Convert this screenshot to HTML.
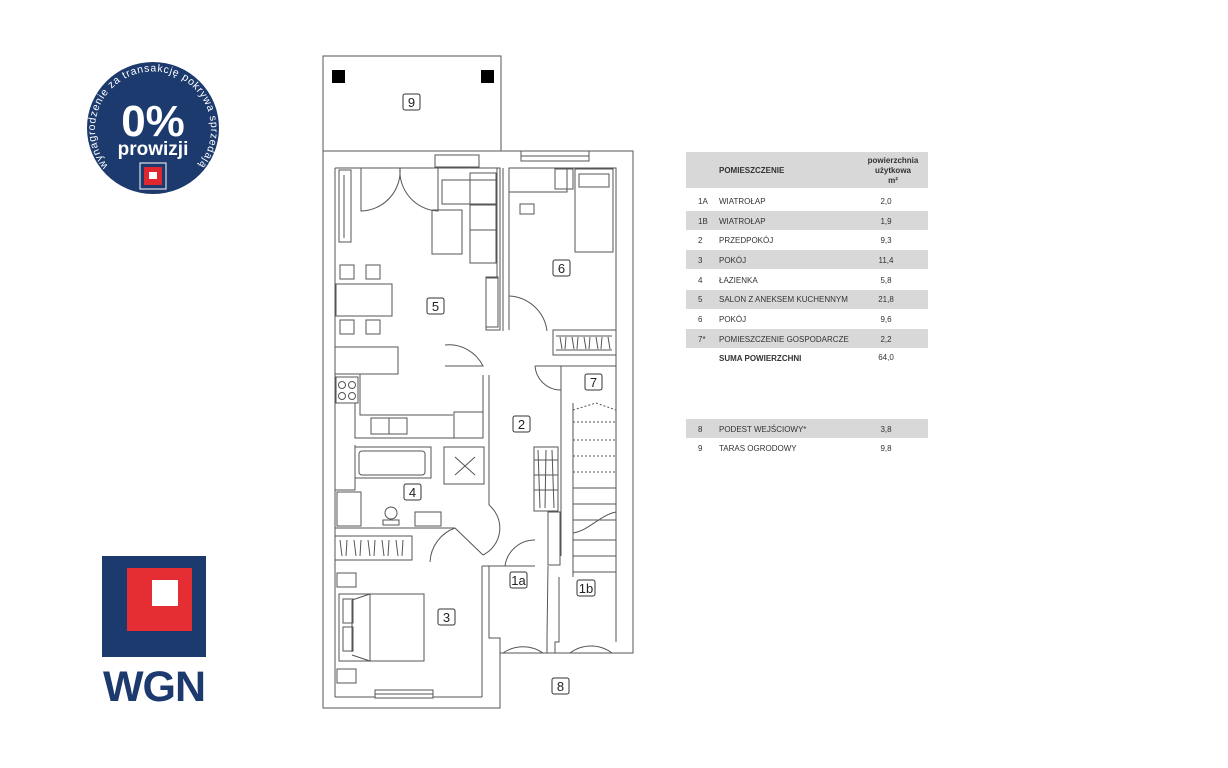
<!DOCTYPE html>
<html><head><meta charset="utf-8"><style>
html,body{margin:0;padding:0;background:#fff;}
svg{display:block}
</style></head><body>
<svg width="1228" height="768" viewBox="0 0 1228 768" xmlns="http://www.w3.org/2000/svg" font-family="Liberation Sans, sans-serif">
<rect width="1228" height="768" fill="#fff"/>

<!-- Badge -->
<defs><path id="arc" d="M 108 166 A 58 58 0 1 1 198 166"/></defs>
<circle cx="153" cy="128" r="66" fill="#1c3a6e"/>
<text font-size="10.5" fill="#fff"><textPath href="#arc" textLength="272" lengthAdjust="spacing">wynagrodzenie za transakcję pokrywa sprzedający</textPath></text>
<text x="153" y="136" text-anchor="middle" font-size="44" font-weight="bold" fill="#fff">0%</text>
<text x="153" y="155" text-anchor="middle" font-size="19" font-weight="bold" fill="#fff">prowizji</text>
<rect x="140" y="163" width="26" height="26" fill="#1c3a6e" stroke="#fff" stroke-width="1"/>
<rect x="144" y="167" width="18" height="18" fill="#e0262f"/>
<rect x="149" y="172" width="8" height="7" fill="#fff"/>

<!-- WGN -->
<rect x="102" y="556" width="104" height="101" fill="#1c3a6e"/>
<rect x="127" y="568" width="65" height="63" fill="#e42e34"/>
<rect x="152" y="580" width="26" height="26" fill="#fff"/>
<text x="154" y="701" text-anchor="middle" font-size="43" font-weight="bold" fill="#1c3a6e" letter-spacing="-1">WGN</text>

<!-- Floor plan -->
<g fill="none" stroke="#555" stroke-width="1">
<rect x="323" y="56" width="178" height="95"/>
<rect x="332" y="70" width="13" height="13" fill="#000" stroke="none"/>
<rect x="481" y="70" width="13" height="13" fill="#000" stroke="none"/>
<polyline points="323,151 633,151 633,653 500,653 500,708 323,708 323,151"/>
<polyline points="335,168 500,168 500,330 486,330 486,278 497,278 497,168"/>
<line x1="335" y1="168" x2="335" y2="697"/>
<line x1="335" y1="697" x2="482" y2="697"/>
<line x1="482" y1="697" x2="482" y2="566"/>
<rect x="375" y="690" width="58" height="8" fill="#fff"/>
<line x1="375" y1="694" x2="433" y2="694"/>
<rect x="521" y="151" width="68" height="10" fill="#fff"/>
<line x1="521" y1="156" x2="589" y2="156"/>
<rect x="435" y="155" width="44" height="12"/>
<polyline points="509,168 616,168 616,642"/>
<line x1="509" y1="168" x2="509" y2="330"/>
<line x1="503" y1="168" x2="503" y2="331"/>
<rect x="553" y="330" width="63" height="25"/>
<path d="M556 336 L612 336 M556 350 L612 350 M560 337 l2 12 M566 337 l-1 12 M572 337 l2 12 M578 337 l-1 12 M584 337 l2 12 M590 337 l-1 12 M596 337 l2 12 M602 337 l-1 12 M608 337 l2 12"/>
<rect x="509" y="168" width="58" height="24"/>
<rect x="555" y="169" width="18" height="20"/>
<rect x="575" y="169" width="38" height="83"/>
<rect x="579" y="174" width="30" height="13"/>
<path d="M520 204 h14 v10 h-14 z"/>
<path d="M509 296 A40 40 0 0 1 547 331"/>
<polyline points="535,366 616,366"/>
<line x1="561" y1="366" x2="561" y2="556"/>
<line x1="573" y1="403" x2="573" y2="577"/>
<path d="M535 366 A26 26 0 0 0 561 390"/>
<path d="M573 410 L596 403 L616 410" stroke-dasharray="2,2"/>
<path d="M573 422 h43 M573 440 h43 M573 456 h43 M573 472 h43" stroke-dasharray="2,2"/>
<path d="M573 488 h43 M573 504 h43 M573 520 h43 M573 540 h43 M573 556 h43 M573 572 h43"/>
<path d="M573 533 C590 530 600 515 616 512"/>
<rect x="534" y="447" width="24" height="64"/>
<path d="M538 450 l2 58 M546 450 l-1 58 M552 450 l2 58 M534 460 h24 M534 475 h24 M534 490 h24"/>
<rect x="548" y="512" width="12" height="53"/>
<rect x="339" y="170" width="12" height="72"/>
<line x1="344" y1="175" x2="344" y2="238"/>
<path d="M361 168 v43 A40 40 0 0 0 400 168 A40 40 0 0 0 438 211 v-43"/>
<rect x="442" y="180" width="55" height="24"/>
<rect x="470" y="173" width="26" height="90"/>
<line x1="470" y1="205" x2="496" y2="205"/>
<line x1="470" y1="230" x2="496" y2="230"/>
<rect x="432" y="210" width="30" height="44"/>
<rect x="486" y="277" width="12" height="50"/>
<rect x="336" y="284" width="56" height="32"/>
<path d="M340 265 h14 v14 h-14 z M366 265 h14 v14 h-14 z M340 320 h14 v14 h-14 z M366 320 h14 v14 h-14 z"/>
<rect x="335" y="347" width="63" height="27"/>
<polyline points="335,374 360,374 360,415 453,415"/>
<rect x="336" y="377" width="22" height="26"/>
<circle cx="342" cy="385" r="3.5"/><circle cx="352" cy="385" r="3.5"/><circle cx="342" cy="396" r="3.5"/><circle cx="352" cy="396" r="3.5"/>
<polyline points="335,403 355,403 355,438 483,438 483,375"/>
<rect x="371" y="418" width="36" height="16"/>
<line x1="389" y1="418" x2="389" y2="434"/>
<rect x="454" y="412" width="29" height="26"/>
<path d="M445 345 A38 38 0 0 1 483 366 L445 366"/>
<line x1="489" y1="375" x2="489" y2="505"/>
<rect x="355" y="447" width="76" height="31"/>
<rect x="359" y="451" width="66" height="24" rx="3"/>
<rect x="444" y="447" width="40" height="37"/>
<path d="M455 457 l20 18 M475 457 l-20 18"/>
<polyline points="335,490 355,490 355,445"/>
<rect x="337" y="492" width="24" height="34"/>
<circle cx="391" cy="513" r="6"/>
<rect x="383" y="520" width="16" height="5"/>
<rect x="415" y="512" width="26" height="14"/>
<line x1="335" y1="528" x2="455" y2="528"/>
<path d="M489 505 A30 30 0 0 1 483 555"/>
<path d="M455 528 L483 555 M455 528 A38 38 0 0 0 430 562"/>
<rect x="335" y="536" width="77" height="24"/>
<path d="M340 540 l2 16 M347 540 l-1 16 M354 540 l2 16 M361 540 l-1 16 M368 540 l2 16 M375 540 l-1 16 M382 540 l2 16 M389 540 l-1 16 M396 540 l2 16 M403 540 l-1 16"/>
<rect x="337" y="573" width="19" height="14"/>
<rect x="337" y="669" width="19" height="14"/>
<rect x="339" y="594" width="85" height="67"/>
<path d="M352 600 v52 M343 599 h10 v24 h-10 z M343 627 h10 v24 h-10 z M352 600 L370 594 L370 661 L352 655"/>
<polyline points="482,566 489,566 489,638 500,638 500,653"/>
<polyline points="548,566 547,638 547,653"/>
<line x1="489" y1="566" x2="535" y2="566"/>
<path d="M505 566 A30 30 0 0 1 535 540"/>
<path d="M503 653 A35 35 0 0 1 543 653"/>
<polyline points="559,577 559,642 555,642 555,653"/>
<line x1="616" y1="642" x2="616" y2="577"/>
<path d="M570 653 A35 35 0 0 1 612 653"/>
</g>

<g font-size="13" fill="#222" text-anchor="middle">
<rect x="403" y="94" width="17" height="16" rx="2" fill="#fff" stroke="#333"/><text x="411.5" y="107">9</text>
<rect x="427" y="298" width="17" height="16" rx="2" fill="#fff" stroke="#333"/><text x="435.5" y="311">5</text>
<rect x="553" y="260" width="17" height="16" rx="2" fill="#fff" stroke="#333"/><text x="561.5" y="273">6</text>
<rect x="585" y="374" width="17" height="16" rx="2" fill="#fff" stroke="#333"/><text x="593.5" y="387">7</text>
<rect x="513" y="416" width="17" height="16" rx="2" fill="#fff" stroke="#333"/><text x="521.5" y="429">2</text>
<rect x="404" y="484" width="17" height="16" rx="2" fill="#fff" stroke="#333"/><text x="412.5" y="497">4</text>
<rect x="438" y="609" width="17" height="16" rx="2" fill="#fff" stroke="#333"/><text x="446.5" y="622">3</text>
<rect x="510" y="572" width="17" height="16" rx="2" fill="#fff" stroke="#333"/><text x="518.5" y="585">1a</text>
<rect x="577" y="580" width="18" height="16" rx="2" fill="#fff" stroke="#333"/><text x="586" y="593">1b</text>
<rect x="552" y="678" width="17" height="16" rx="2" fill="#fff" stroke="#333"/><text x="560.5" y="691">8</text>
</g>

<g fill="#d8d8d8">
<rect x="686" y="152" width="242" height="36"/>
<rect x="686" y="211" width="242" height="19"/>
<rect x="686" y="250" width="242" height="19"/>
<rect x="686" y="290" width="242" height="19"/>
<rect x="686" y="329" width="242" height="19"/>
<rect x="686" y="419" width="242" height="19"/>
</g>
<g font-size="8" fill="#333" font-weight="bold">
<text x="719" y="173">POMIESZCZENIE</text>
<text x="893" y="163" text-anchor="middle">powierzchnia</text>
<text x="893" y="173" text-anchor="middle">użytkowa</text>
<text x="893" y="183" text-anchor="middle">m²</text>
</g>
<g font-size="8" fill="#333">
<text x="698" y="204">1A</text><text x="719" y="204">WIATROŁAP</text><text x="886" y="204" text-anchor="middle">2,0</text>
<text x="698" y="224">1B</text><text x="719" y="224">WIATROŁAP</text><text x="886" y="224" text-anchor="middle">1,9</text>
<text x="698" y="243">2</text><text x="719" y="243">PRZEDPOKÓJ</text><text x="886" y="243" text-anchor="middle">9,3</text>
<text x="698" y="263">3</text><text x="719" y="263">POKÓJ</text><text x="886" y="263" text-anchor="middle">11,4</text>
<text x="698" y="283">4</text><text x="719" y="283">ŁAZIENKA</text><text x="886" y="283" text-anchor="middle">5,8</text>
<text x="698" y="302">5</text><text x="719" y="302">SALON Z ANEKSEM KUCHENNYM</text><text x="886" y="302" text-anchor="middle">21,8</text>
<text x="698" y="322">6</text><text x="719" y="322">POKÓJ</text><text x="886" y="322" text-anchor="middle">9,6</text>
<text x="698" y="342">7*</text><text x="719" y="342">POMIESZCZENIE GOSPODARCZE</text><text x="886" y="342" text-anchor="middle">2,2</text>
<text x="719" y="361" font-weight="bold">SUMA POWIERZCHNI</text><text x="886" y="360" text-anchor="middle">64,0</text>
<text x="698" y="432">8</text><text x="719" y="432">PODEST WEJŚCIOWY*</text><text x="886" y="432" text-anchor="middle">3,8</text>
<text x="698" y="451">9</text><text x="719" y="451">TARAS OGRODOWY</text><text x="886" y="451" text-anchor="middle">9,8</text>
</g>
</svg>
</body></html>
